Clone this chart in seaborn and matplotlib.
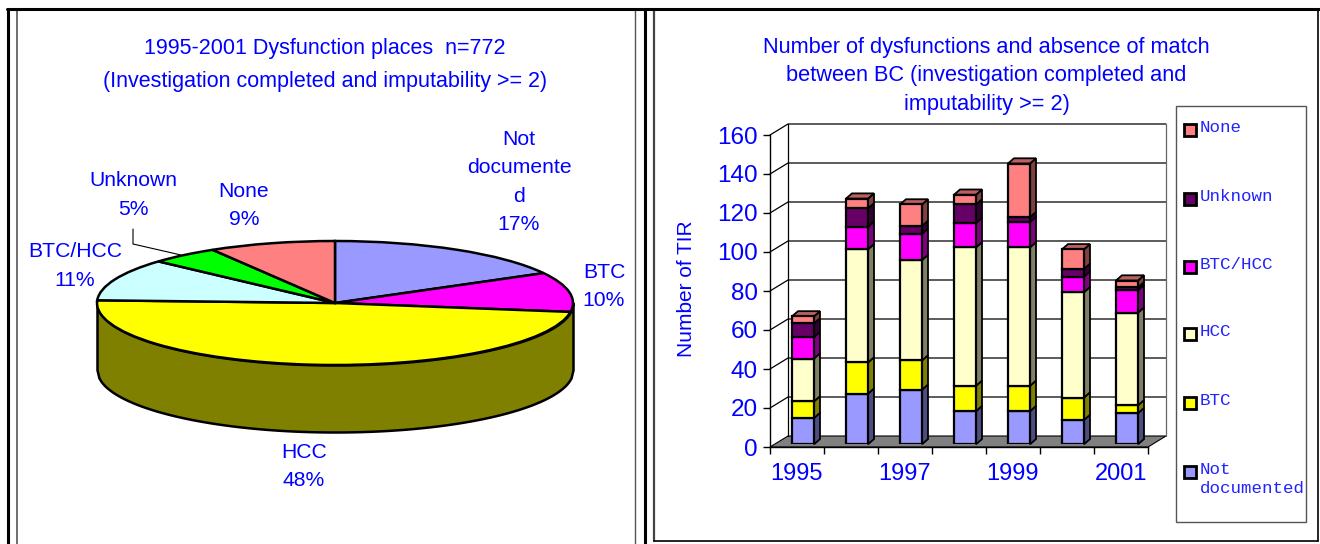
import numpy as np
import matplotlib
matplotlib.use("Agg")
import matplotlib.pyplot as plt
from matplotlib.lines import Line2D
from matplotlib.patches import Rectangle, Polygon
import seaborn as sns

W, H = 1320, 544

# ---------- data ----------
pie_labels = ["Not\ndocumente\nd", "BTC", "HCC", "BTC/HCC", "Unknown", "None"]
pie_values = [17, 10.3, 48.4, 11, 4.7, 8.6]
pie_colors = ["#9999FF", "#FF00FF", "#FFFF00", "#CCFFFF", "#00FF00", "#FF8080"]

years = ["1995", "1996", "1997", "1998", "1999", "2000", "2001"]
not_documented = [13.5, 26, 28, 17, 17, 12.5, 16]
btc = [8.5, 16, 15, 13, 13, 11.5, 4]
hcc = [22, 58, 51.5, 71, 71, 54, 47.5]
btc_hcc = [11, 11.5, 13.5, 12.5, 13, 8, 11.5]
unknown = [7, 9.5, 4, 9.5, 2.5, 4, 1.5]
none = [3.6, 5, 11, 5, 27.5, 10, 3.5]
series_names = ["Not\ndocumented", "BTC", "HCC", "BTC/HCC", "Unknown", "None"]
series_values = [not_documented, btc, hcc, btc_hcc, unknown, none]
front_colors = ["#9999FF", "#FFFF00", "#FFFFCC", "#FF00FF", "#660066", "#FF8080"]
side_colors = ["#4D4D80", "#808000", "#808066", "#800080", "#330033", "#804040"]
top_color = "#BF6060"

pie_title = "1995-2001 Dysfunction places  n=772\n(Investigation completed and imputability >= 2)"
bar_title = "Number of dysfunctions and absence of match\nbetween BC (investigation completed and\nimputability >= 2)"
yticks = [0, 20, 40, 60, 80, 100, 120, 140, 160]
shown_years = {"1995", "1997", "1999", "2001"}

# ---------- theme ----------
sns.set_theme(style="white")
plt.rcParams["font.family"] = ["Liberation Sans", "DejaVu Sans"]
BLUE = "#0000FF"

fig = plt.figure(figsize=(W / 100, H / 100), dpi=100, facecolor="white")


def axes_px(x0, y0, x1, y1, **kw):
    """Axes from pixel box, y measured from the top of the image."""
    return fig.add_axes([x0 / W, 1 - y1 / H, (x1 - x0) / W, (y1 - y0) / H], **kw)


def vline(x, y0, y1, lw=1.5, color="black"):
    fig.add_artist(Line2D([x / W, x / W], [1 - y0 / H, 1 - y1 / H], lw=lw, color=color,
                          transform=fig.transFigure))


def hline(y, x0, x1, lw=1.5, color="black"):
    fig.add_artist(Line2D([x0 / W, x1 / W], [1 - y / H, 1 - y / H], lw=lw, color=color,
                          transform=fig.transFigure))


def txt(x, y, s, **kw):
    kw.setdefault("color", BLUE)
    kw.setdefault("ha", "center")
    kw.setdefault("va", "center")
    fig.text(x / W, 1 - y / H, s, **kw)


# ---------- frames ----------
vline(8, 9, 544, lw=2.2)
vline(17, 9, 544, lw=1.2, color="#555555")
vline(635, 9, 544, lw=1.0, color="#555555")
vline(645, 9, 544, lw=2.2)
vline(654, 9, 541, lw=1.6, color="#444444")
vline(1318, 9, 541, lw=1.2)
hline(541, 654, 1318, lw=1.2)
hline(9, 7, 1319, lw=2.2)

# ---------- pie ----------
pax = axes_px(97, 241, 573, 365)
pax.pie(pie_values, colors=pie_colors, startangle=90, counterclock=False,
        wedgeprops=dict(edgecolor="black", linewidth=1.8), radius=1.0, center=(0, 0))
pax.set_aspect("auto")
pax.set_xlim(-1, 1)
pax.set_ylim(-1, 1)
xs = np.linspace(-1, 1, 241)
arc = -np.sqrt(1 - xs ** 2)
depth = 2 * 67 / 124
pax.fill_between(xs, arc, arc - depth, color="#808000", ec="black", lw=1.8,
                 clip_on=False, zorder=0)

pie_xs = [519, 604, 304, 75, 133, 244]
pie_ys = [182, 286.5, 466.5, 266, 195, 205.5]
for lab, val, px, py in zip(pie_labels, pie_values, pie_xs, pie_ys):
    txt(px, py, f"{lab}\n{val:.0f}%", fontsize=15.2, linespacing=1.62)
fig.add_artist(Line2D([133 / W, 133 / W, 181 / W],
                      [1 - 229 / H, 1 - 244 / H, 1 - 255 / H], lw=0.8, color="black",
                      transform=fig.transFigure))
txt(325, 65, pie_title, fontsize=15.5, linespacing=1.78)

# ---------- stacked bars ----------
X0, X1, Y0, Y1 = 770, 1148, 447, 135
ax = axes_px(X0, Y1, X1, Y0)
ax.set_xlim(-0.5, 6.5)
ax.set_ylim(0, 160)
ax.patch.set_alpha(0)
px_x = (X1 - X0) / 7
px_y = (Y0 - Y1) / 160
wall_dx, wall_dy = 18 / px_x, 11 / px_y

left, right = -0.5, 6.5
ax.add_patch(Polygon([(left, 0), (left + wall_dx, wall_dy), (right + wall_dx, wall_dy),
                      (right, 0)], fc="#808080", ec="black", lw=0.8, clip_on=False))
for t in yticks[1:]:
    ax.plot([left, left + wall_dx, right + wall_dx], [t, t + wall_dy, t + wall_dy],
            color="black", lw=0.9, clip_on=False, zorder=1)
ax.plot([left + wall_dx] * 2, [wall_dy, 160 + wall_dy], color="black", lw=0.9, clip_on=False)
ax.plot([right + wall_dx] * 2, [wall_dy, 160 + wall_dy], color="#666666", lw=0.9, clip_on=False)

for s in ["top", "right"]:
    ax.spines[s].set_visible(False)
for s in ["left", "bottom"]:
    ax.spines[s].set_linewidth(1.0)
    ax.spines[s].set_color("black")
ax.set_yticks(yticks)
ax.set_xticks(np.arange(0, 8) - 0.5, labels=[])
ax.set_xticks(np.arange(7), labels=[y if y in shown_years else "" for y in years], minor=True)
ax.tick_params(axis="both", which="major", length=5, width=1.0, color="black", bottom=True, left=True)
ax.tick_params(axis="x", which="minor", length=0, pad=11.7, labelsize=17, labelcolor=BLUE)
ax.tick_params(axis="y", labelsize=17.5, labelcolor=BLUE, pad=4)

# bars sit slightly inside the 3D box, so they live on an overlay axes shifted from the front plane
SHIFT_X, SHIFT_Y = 6, 2.7
bax = axes_px(X0 + SHIFT_X, Y1 - SHIFT_Y, X1 + SHIFT_X, Y0 - SHIFT_Y)
bar_w = 22 / px_x
dep_x, dep_y = 6 / px_x, 5.2 / px_y
bottom = np.zeros(len(years))
for name, vals, fc, sc in zip(series_names, series_values, front_colors, side_colors):
    vals = np.asarray(vals, dtype=float)
    sns.barplot(x=years, y=vals, bottom=bottom, color=fc, saturation=1, width=bar_w,
                edgecolor="black", linewidth=1.6, ax=bax, zorder=3)
    for i, (b, v) in enumerate(zip(bottom, vals)):
        xr = i + bar_w / 2
        bax.add_patch(Polygon([(xr, b), (xr + dep_x, b + dep_y), (xr + dep_x, b + v + dep_y), (xr, b + v)],
                              fc=sc, ec="black", lw=1.3, clip_on=False, zorder=2.5))
    bottom = bottom + vals
for i, t in enumerate(bottom):
    xl, xr = i - bar_w / 2, i + bar_w / 2
    bax.add_patch(Polygon([(xl, t), (xl + dep_x, t + dep_y), (xr + dep_x, t + dep_y), (xr, t)],
                          fc=top_color, ec="black", lw=1.3, clip_on=False, zorder=2.5))
bax.set_xlim(-0.5, 6.5)
bax.set_ylim(0, 160)
bax.axis("off")

txt(686, 289, "Number of TIR", rotation=90, fontsize=15)
txt(986.5, 76, bar_title, fontsize=15.7, linespacing=1.48)

# ---------- legend ----------
fig.add_artist(Rectangle((1176 / W, 1 - 522 / H), 130 / W, 416 / H, fc="white", ec="#555555",
                         lw=1.0, transform=fig.transFigure))
leg_y = [130, 199, 267, 334, 403, 472]
for name, fc, y in zip(series_names[::-1], front_colors[::-1], leg_y):
    fig.add_artist(Rectangle((1184 / W, 1 - (y + 6) / H), 12 / W, 12 / H, fc=fc, ec="black",
                             lw=2.0, transform=fig.transFigure))
    txt(1200, y - 10, name, ha="left", va="top", family=["Liberation Mono"], fontsize=12.6,
        color="#2222FF", linespacing=1.3)

fig.savefig("out.png", dpi=100)
